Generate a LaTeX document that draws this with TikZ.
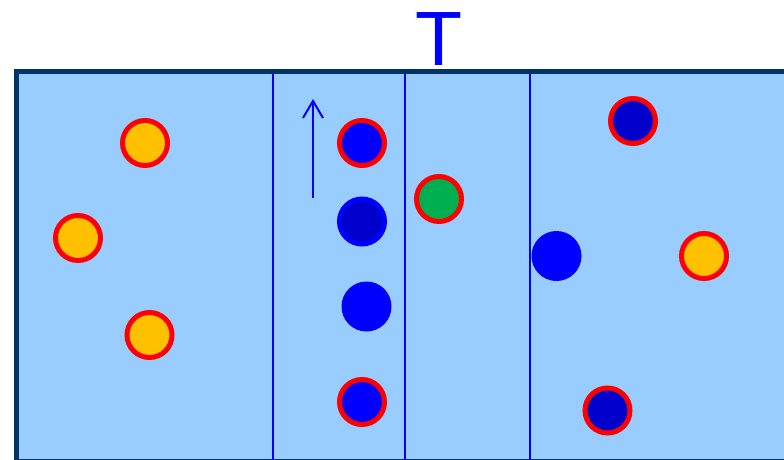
\documentclass[tikz,border=0pt]{standalone}
\usepackage{fontspec}
\setmainfont{Liberation Sans}
\usetikzlibrary{arrows.meta}
\definecolor{tankfill}{HTML}{99CCFF}
\definecolor{tankedge}{HTML}{003366}
\definecolor{wall}{HTML}{0000FF}
\definecolor{ring}{HTML}{FF0000}
\definecolor{amber}{HTML}{FFC000}
\definecolor{leaf}{HTML}{00B050}
\definecolor{navy}{HTML}{0000CC}
\begin{document}
\begin{tikzpicture}[x=1pt,y=-1pt,
  ball/.style={circle,inner sep=0pt,minimum size=45pt,line width=5pt},
  ringed/.style={ball,draw=ring,fill=#1},
  plain/.style={circle,inner sep=0pt,minimum size=50pt,fill=wall},
  edged/.style={ball,draw=wall,fill=navy},
  divider/.style={draw=wall,line width=2pt},
  flow/.style={draw=wall,line width=2pt,-{Straight Barb[length=17pt,width=20pt,line width=2pt]}}]
  \useasboundingbox (0,0) rectangle (784,460);
  \clip (0,0) rectangle (784,460);

  % tank
  \draw[fill=tankfill,draw=tankedge,line width=5pt] (16.5,71.5) rectangle (800,461.5);

  % dividing walls
  \foreach \x/\n in {273/a,405/b,530/c}{
    \coordinate (top\n) at (\x,74);
    \coordinate (bot\n) at (\x,460);
    \draw[divider] (top\n) -- (bot\n);
  }

  % title
  \node[anchor=base,text=wall,inner sep=0pt,font=\fontsize{77}{77}\selectfont] (title) at (439.5,66) {T};

  % upward flow arrow
  \coordinate (flowS) at (313,198);
  \coordinate (flowE) at (313,99);
  \draw[flow] (flowS) -- (flowE);

  % left section
  \node[ringed=amber] (o1) at (145,143) {};
  \node[ringed=amber] (o2) at (78,238) {};
  \node[ringed=amber] (o3) at (149.5,335) {};

  % middle section
  \node[ringed=wall] (m1) at (362,143) {};
  \node[edged] (m2) at (362,221.5) {};
  \node[plain] (m3) at (366.5,306.5) {};
  \node[ringed=wall] (m4) at (362,402) {};
  \node[ringed=leaf] (g1) at (439,199) {};

  % right section
  \node[ringed=navy] (r1) at (633,121) {};
  \node[plain] (r2) at (556.5,256) {};
  \node[ringed=amber] (r3) at (704,256) {};
  \node[ringed=navy] (r4) at (607.5,410.5) {};
\end{tikzpicture}
\end{document}
